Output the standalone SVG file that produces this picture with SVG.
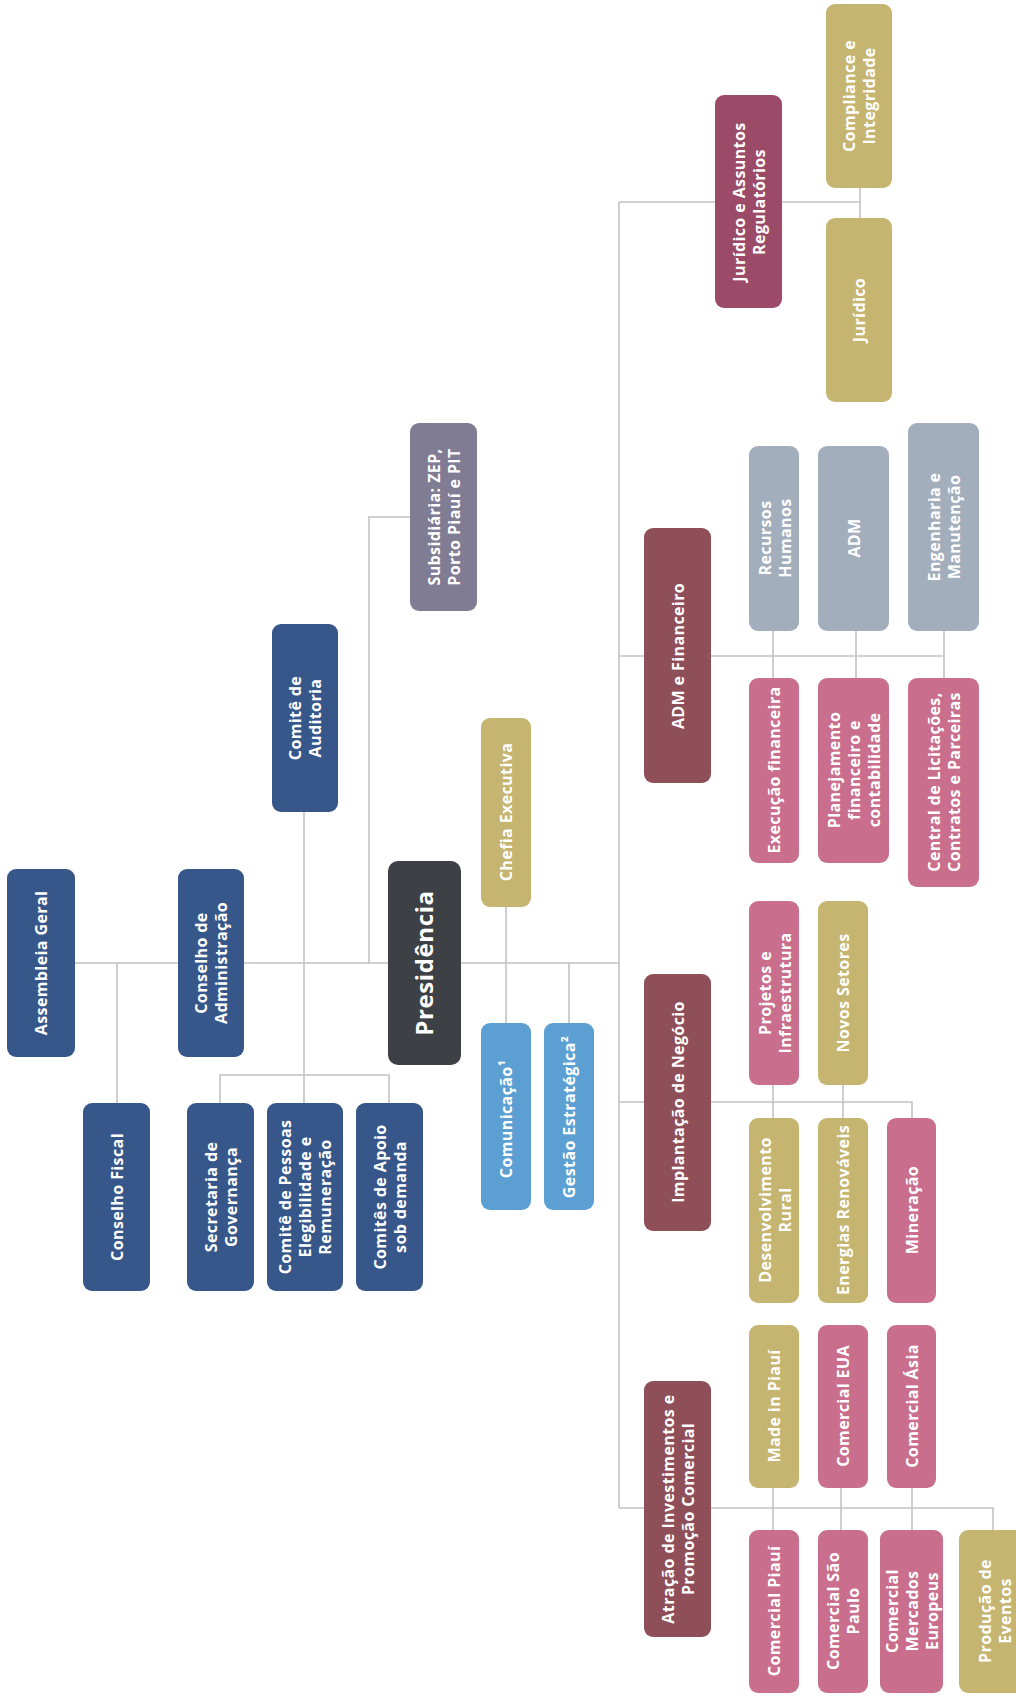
<svg xmlns="http://www.w3.org/2000/svg" width="1016" height="1699" viewBox="0 0 1016 1699">
<style>
.bg{fill:#ffffff}
.c{fill:none;stroke:#c2c2c2;stroke-width:1.6}
.blue{fill:#37568a}
.dark{fill:#3d4045}
.gold{fill:#c5b571}
.lblue{fill:#5c9fd2}
.sub{fill:#7f7c94}
.jur{fill:#9b4a68}
.mar{fill:#8f4f58}
.pink{fill:#c96f8d}
.gray{fill:#a3aebd}
text{font-family:"Open Sans","Noto Sans","Liberation Sans",sans-serif;font-weight:700;font-size:16px;letter-spacing:0.4px;fill:#ffffff;text-anchor:middle}
.big{font-size:24px;letter-spacing:0.6px}
</style>
<rect class="bg" x="0" y="0" width="1016" height="1699"/>
<g id="connectors">
<path class="c" d="M75 963H619"/>
<path class="c" d="M117 963V1103"/>
<path class="c" d="M304 812V1103"/>
<path class="c" d="M220 1103V1075H389V1103"/>
<path class="c" d="M369 963V517H410"/>
<path class="c" d="M506 907V1023"/>
<path class="c" d="M569 963V1023"/>
<path class="c" d="M619 202V1508"/>
<path class="c" d="M619 202H860"/>
<path class="c" d="M860 188V218"/>
<path class="c" d="M619 656H944"/>
<path class="c" d="M773 631V678M856 631V678M944 631V678"/>
<path class="c" d="M619 1102H912V1118"/>
<path class="c" d="M773 1085V1118M843 1085V1118"/>
<path class="c" d="M619 1508H993V1530"/>
<path class="c" d="M773 1488V1530M841 1488V1530M912 1488V1530"/>
</g>
<g id="assembleia"><rect class="blue" x="7" y="869" width="68" height="188" rx="9"/><text transform="translate(41 963) rotate(-90)" y="6">Assembleia Geral</text></g>
<g id="conselho-adm"><rect class="blue" x="178" y="869" width="66" height="188" rx="9"/><text transform="translate(211 963) rotate(-90)"><tspan x="0" y="-4">Conselho de</tspan><tspan x="0" y="16">Administração</tspan></text></g>
<g id="conselho-fiscal"><rect class="blue" x="83" y="1103" width="67" height="188" rx="9"/><text transform="translate(116.5 1197) rotate(-90)" y="6">Conselho Fiscal</text></g>
<g id="comite-auditoria"><rect class="blue" x="272" y="624" width="66" height="188" rx="9"/><text transform="translate(305 718) rotate(-90)"><tspan x="0" y="-4">Comitê de</tspan><tspan x="0" y="16">Auditoria</tspan></text></g>
<g id="secretaria"><rect class="blue" x="187" y="1103" width="67" height="188" rx="9"/><text transform="translate(220.5 1197) rotate(-90)"><tspan x="0" y="-4">Secretaria de</tspan><tspan x="0" y="16">Governança</tspan></text></g>
<g id="comite-pessoas"><rect class="blue" x="267" y="1103" width="76" height="188" rx="9"/><text transform="translate(305 1197) rotate(-90)"><tspan x="0" y="-14">Comitê de Pessoas</tspan><tspan x="0" y="6">Elegibilidade e</tspan><tspan x="0" y="26">Remuneração</tspan></text></g>
<g id="comites-apoio"><rect class="blue" x="356" y="1103" width="67" height="188" rx="9"/><text transform="translate(389.5 1197) rotate(-90)"><tspan x="0" y="-4">Comitês de Apoio</tspan><tspan x="0" y="16">sob demanda</tspan></text></g>
<g id="presidencia"><rect class="dark" x="388" y="861" width="73" height="204" rx="10"/><text class="big" transform="translate(424.5 963) rotate(-90)" y="8.5">Presidência</text></g>
<g id="subsidiaria"><rect class="sub" x="410" y="423" width="67" height="188" rx="9"/><text transform="translate(443.5 517) rotate(-90)"><tspan x="0" y="-4">Subsidiária: ZEP,</tspan><tspan x="0" y="16">Porto Piauí e PIT</tspan></text></g>
<g id="chefia"><rect class="gold" x="481" y="718" width="50" height="189" rx="9"/><text transform="translate(506 812) rotate(-90)" y="6">Chefia Executiva</text></g>
<g id="comunicacao"><rect class="lblue" x="481" y="1023" width="50" height="187" rx="9"/><text transform="translate(506 1119) rotate(-90)" y="6">Comunicação¹</text></g>
<g id="gestao"><rect class="lblue" x="544" y="1023" width="50" height="187" rx="9"/><text transform="translate(569 1117) rotate(-90)" y="6">Gestão Estratégica²</text></g>
<g id="juridico-assuntos"><rect class="jur" x="715" y="95" width="67" height="213" rx="9"/><text transform="translate(748.5 202) rotate(-90)"><tspan x="0" y="-4">Jurídico e Assuntos</tspan><tspan x="0" y="16">Regulatórios</tspan></text></g>
<g id="compliance"><rect class="gold" x="826" y="4" width="66" height="184" rx="9"/><text transform="translate(859 96) rotate(-90)"><tspan x="0" y="-4">Compliance e</tspan><tspan x="0" y="16">Integridade</tspan></text></g>
<g id="juridico"><rect class="gold" x="826" y="218" width="66" height="184" rx="9"/><text transform="translate(859 310) rotate(-90)" y="6">Jurídico</text></g>
<g id="adm-financeiro"><rect class="mar" x="644" y="528" width="67" height="255" rx="9"/><text transform="translate(677.5 656) rotate(-90)" y="6">ADM e Financeiro</text></g>
<g id="recursos-humanos"><rect class="gray" x="749" y="446" width="50" height="185" rx="9"/><text transform="translate(775 538) rotate(-90)"><tspan x="0" y="-4">Recursos</tspan><tspan x="0" y="16">Humanos</tspan></text></g>
<g id="adm"><rect class="gray" x="818" y="446" width="71" height="185" rx="9"/><text transform="translate(853.5 538) rotate(-90)" y="6">ADM</text></g>
<g id="engenharia"><rect class="gray" x="908" y="423" width="71" height="208" rx="9"/><text transform="translate(943.5 527) rotate(-90)"><tspan x="0" y="-4">Engenharia e</tspan><tspan x="0" y="16">Manutenção</tspan></text></g>
<g id="execucao-financeira"><rect class="pink" x="749" y="678" width="50" height="185" rx="9"/><text transform="translate(774 770) rotate(-90)" y="6">Execução financeira</text></g>
<g id="planejamento"><rect class="pink" x="818" y="678" width="71" height="185" rx="9"/><text transform="translate(853.5 770) rotate(-90)"><tspan x="0" y="-14">Planejamento</tspan><tspan x="0" y="6">financeiro e</tspan><tspan x="0" y="26">contabilidade</tspan></text></g>
<g id="central"><rect class="pink" x="908" y="678" width="71" height="209" rx="9"/><text transform="translate(943.5 782) rotate(-90)"><tspan x="0" y="-4">Central de Licitações,</tspan><tspan x="0" y="16">Contratos e Parceiras</tspan></text></g>
<g id="implantacao"><rect class="mar" x="644" y="974" width="67" height="257" rx="9"/><text transform="translate(677.5 1102) rotate(-90)" y="6">Implantação de Negócio</text></g>
<g id="projetos"><rect class="pink" x="749" y="901" width="50" height="184" rx="9"/><text transform="translate(775 993) rotate(-90)"><tspan x="0" y="-4">Projetos e</tspan><tspan x="0" y="16">Infraestrutura</tspan></text></g>
<g id="novos-setores"><rect class="gold" x="818" y="901" width="50" height="184" rx="9"/><text transform="translate(843 993) rotate(-90)" y="6">Novos Setores</text></g>
<g id="desenvolvimento"><rect class="gold" x="749" y="1118" width="50" height="185" rx="9"/><text transform="translate(775 1210) rotate(-90)"><tspan x="0" y="-4">Desenvolvimento</tspan><tspan x="0" y="16">Rural</tspan></text></g>
<g id="energias"><rect class="gold" x="818" y="1118" width="50" height="185" rx="9"/><text transform="translate(843 1210) rotate(-90)" y="6">Energias Renováveis</text></g>
<g id="mineracao"><rect class="pink" x="887" y="1118" width="49" height="185" rx="9"/><text transform="translate(911.5 1210) rotate(-90)" y="6">Mineração</text></g>
<g id="atracao"><rect class="mar" x="644" y="1381" width="67" height="256" rx="9"/><text transform="translate(677.5 1509) rotate(-90)"><tspan x="0" y="-4">Atração de Investimentos e</tspan><tspan x="0" y="16">Promoção Comercial</tspan></text></g>
<g id="made-in-piaui"><rect class="gold" x="749" y="1325" width="50" height="163" rx="9"/><text transform="translate(774 1406) rotate(-90)" y="6">Made in Piauí</text></g>
<g id="comercial-eua"><rect class="pink" x="818" y="1325" width="50" height="163" rx="9"/><text transform="translate(843 1406) rotate(-90)" y="6">Comercial EUA</text></g>
<g id="comercial-asia"><rect class="pink" x="887" y="1325" width="49" height="163" rx="9"/><text transform="translate(911.5 1406) rotate(-90)" y="6">Comercial Ásia</text></g>
<g id="comercial-piaui"><rect class="pink" x="749" y="1530" width="50" height="163" rx="9"/><text transform="translate(774 1611) rotate(-90)" y="6">Comercial Piauí</text></g>
<g id="comercial-sao-paulo"><rect class="pink" x="818" y="1530" width="50" height="163" rx="9"/><text transform="translate(843 1611) rotate(-90)"><tspan x="0" y="-4">Comercial São</tspan><tspan x="0" y="16">Paulo</tspan></text></g>
<g id="comercial-europeus"><rect class="pink" x="880" y="1530" width="63" height="163" rx="9"/><text transform="translate(911.5 1611) rotate(-90)"><tspan x="0" y="-14">Comercial</tspan><tspan x="0" y="6">Mercados</tspan><tspan x="0" y="26">Europeus</tspan></text></g>
<g id="producao-eventos"><rect class="gold" x="959" y="1530" width="70" height="163" rx="9"/><text transform="translate(995 1611) rotate(-90)"><tspan x="0" y="-4">Produção de</tspan><tspan x="0" y="16">Eventos</tspan></text></g>
</svg>
